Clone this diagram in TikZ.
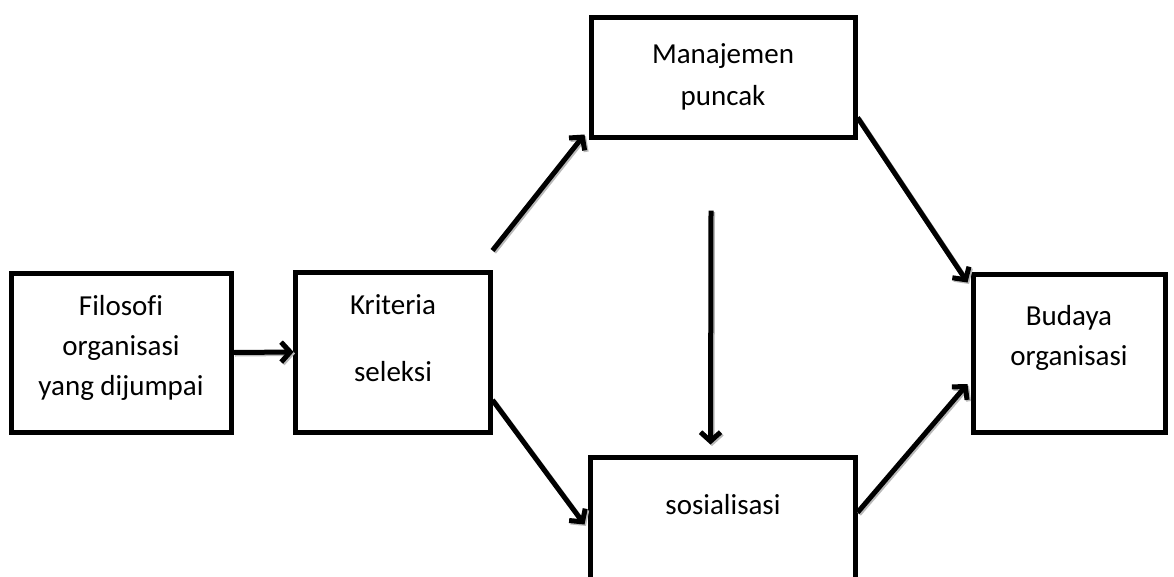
\documentclass[tikz,border=0pt]{standalone}
\usepackage{fontspec}
\setmainfont{Carlito}[Ligatures=NoCommon]
\usetikzlibrary{arrows.meta}
\tikzset{
  box/.style={draw=black, line width=5pt, fill=white, inner sep=0pt},
  lbl/.style={font=\fontsize{29}{40}\selectfont, align=center, inner sep=0pt},
  arr/.style={line width=5pt, -{Straight Barb[length=9pt,width=20pt,line width=5pt]},
    preaction={draw=gray!55, line width=5pt, transform canvas={shift={(1.5pt,-1.5pt)}},
      -{Straight Barb[length=9pt,width=20pt,line width=5pt]}}}
}
\begin{document}
\begin{tikzpicture}[x=1pt,y=-1pt]
\useasboundingbox (0,0) rectangle (1174,576);
\clip (0,0) rectangle (1174,576);
\node[box, minimum width=220pt, minimum height=159pt] (fil) at (121,352.5) {};
\node[lbl] (filt) at (121,348) {Filosofi\\organisasi\\yang dijumpai};
\node[box, minimum width=195pt, minimum height=160pt] (krit) at (392.5,352) {};
\node[lbl, font=\fontsize{29}{67}\selectfont] (kritt) at (393,338) {Kriteria\\seleksi};
\node[box, minimum width=264pt, minimum height=120pt] (man) at (723,77) {};
\node[lbl, font=\fontsize{29}{42}\selectfont] (mant) at (723,77) {Manajemen\\puncak};
\node[box, minimum width=265pt, minimum height=150pt] (sos) at (722.5,532) {};
\node[lbl] (sost) at (723,505) {sosialisasi};
\node[box, minimum width=192pt, minimum height=158pt] (bud) at (1069,353) {};
\node[lbl] (budt) at (1069,338) {Budaya\\organisasi};
\draw[arr] (fil.east) -- ([xshift=1pt]krit.west);
\draw[arr] ([yshift=19pt]krit.north east) -- ([shift={(-4pt,5pt)}]man.south west);
\draw[arr] ([yshift=-48pt]krit.east) -- ([shift={(-3pt,-70pt)}]sos.north west);
\draw[arr] ([yshift=22pt]man.south east) -- ([shift={(-3pt,-11pt)}]bud.north west);
\draw[arr] ([yshift=-58pt]sos.north east) -- ([shift={(-3pt,-31pt)}]bud.west);
\draw[arr] ([shift={(-12pt,-71pt)}]man.south) -- ([shift={(-12pt,10pt)}]sos.north);
\end{tikzpicture}
\end{document}
